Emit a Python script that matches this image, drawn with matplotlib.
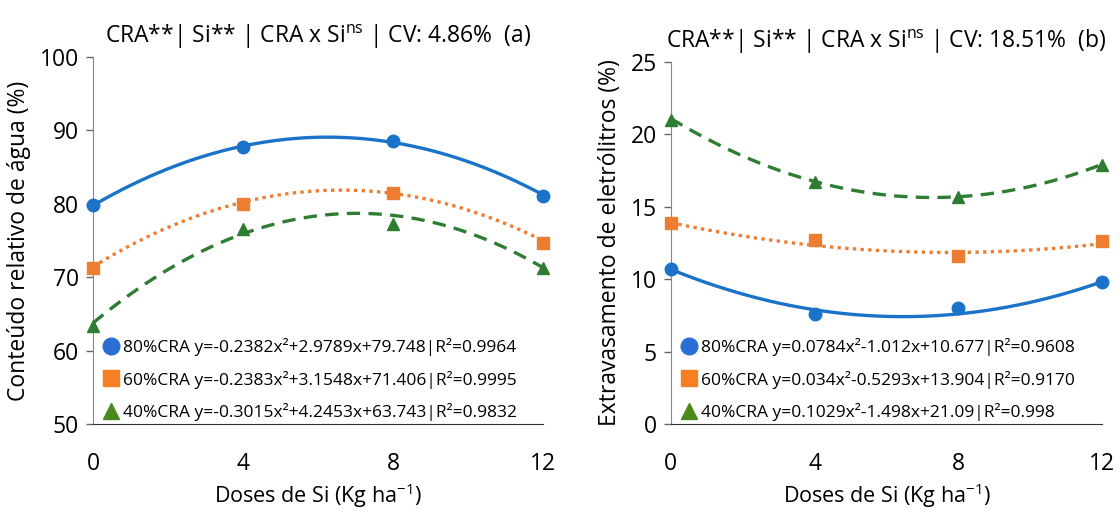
import numpy as np
import matplotlib
matplotlib.use("Agg")
import matplotlib.pyplot as plt

plt.rcParams['font.family'] = ['Open Sans', 'DejaVu Sans']

doses = [0, 4, 8, 12]
series = ['80%CRA', '60%CRA', '40%CRA']

# conteudo relativo de agua (%)
cra_80 = [79.8, 87.7, 88.6, 81.0]
cra_60 = [71.2, 79.9, 81.4, 74.7]
cra_40 = [63.3, 76.6, 77.2, 71.2]
cra_coef = [(-0.2382, 2.9789, 79.748), (-0.2383, 3.1548, 71.406), (-0.3015, 4.2453, 63.743)]
cra_r2 = ['0.9964', '0.9995', '0.9832']

# extravasamento de eletrolitos (%)
ee_80 = [10.7, 7.6, 8.0, 9.8]
ee_60 = [13.9, 12.7, 11.6, 12.6]
ee_40 = [21.0, 16.7, 15.7, 17.9]
ee_coef = [(0.0784, -1.012, 10.677), (0.034, -0.5293, 13.904), (0.1029, -1.498, 21.09)]
ee_r2 = ['0.9608', '0.9170', '0.998']

colors = ['#1a73c9', '#ed7d31', '#2e7d32']
mcolors = ['#2b6fd6', '#f57f22', '#4a8a1c']
markers = ['o', 's', '^']
styles = ['-', (0, (1, 1.3)), (0, (4, 2.5))]


def fmt(v):
    return '%g' % v


def eq_label(name, c, r2):
    a, b, k = c
    txt = 'y=' + fmt(a) + 'x²' + ('+' if b >= 0 else '') + fmt(b) + 'x' + ('+' if k >= 0 else '') + fmt(k)
    return name + ' ' + txt + '|R²=' + r2


def panel(ax, ys, coefs, r2s, ylim, yticks, ylabel, title):
    xx = np.linspace(0, 12, 200)
    handles = []
    for i, y in enumerate(ys):
        a, b, k = coefs[i]
        ax.plot(xx, a * xx ** 2 + b * xx + k, color=colors[i], ls=styles[i], lw=2.4,
                clip_on=False, zorder=2)
        ax.plot(doses, y, ls='none', marker=markers[i], ms=9, color=colors[i],
                clip_on=False, zorder=3)
        h, = ax.plot([], [], ls='none', marker=markers[i], ms=12, color=mcolors[i],
                     label=eq_label(series[i], coefs[i], r2s[i]))
        handles.append(h)
    ax.set_xlim(0, 12)
    ax.set_ylim(*ylim)
    ax.set_xticks(doses)
    ax.set_yticks(yticks)
    ax.tick_params(axis='x', length=0, pad=20, labelsize=16.5)
    ax.tick_params(axis='y', length=5, width=1, color='#666666', labelsize=16.5, pad=5)
    for s in ['top', 'right']:
        ax.spines[s].set_visible(False)
    ax.spines['left'].set_color('#888888')
    ax.spines['bottom'].set_color('#333333')
    ax.set_ylabel(ylabel, fontsize=16.5, labelpad=6)
    ax.set_xlabel('Doses de Si (Kg ha$^{\\mathregular{-1}}$)', fontsize=15.5, labelpad=4)
    ax.set_title(title, fontsize=16.5, pad=10)
    ax.legend(handles=handles, loc='lower left', frameon=False, fontsize=12.5,
              handletextpad=0.2, labelspacing=0.85, borderaxespad=0.0, borderpad=0.15,
              handlelength=1.0, bbox_to_anchor=(0.015, 0.0))


fig = plt.figure(figsize=(11.2, 5.12), dpi=100)
ax1 = fig.add_axes([0.083, 0.172, 0.402, 0.717])
ax2 = fig.add_axes([0.599, 0.172, 0.385, 0.707])

panel(ax1, [cra_80, cra_60, cra_40], cra_coef, cra_r2, (50, 100), range(50, 101, 10),
      'Conteúdo relativo de água (%)',
      r'CRA**| Si** | CRA x Si$^{\mathregular{ns}}$ | CV: 4.86%  (a)')
panel(ax2, [ee_80, ee_60, ee_40], ee_coef, ee_r2, (0, 25), range(0, 26, 5),
      'Extravasamento de eletrólitros (%)',
      r'CRA**| Si** | CRA x Si$^{\mathregular{ns}}$ | CV: 18.51%  (b)')

fig.savefig('out.png', dpi=100)
